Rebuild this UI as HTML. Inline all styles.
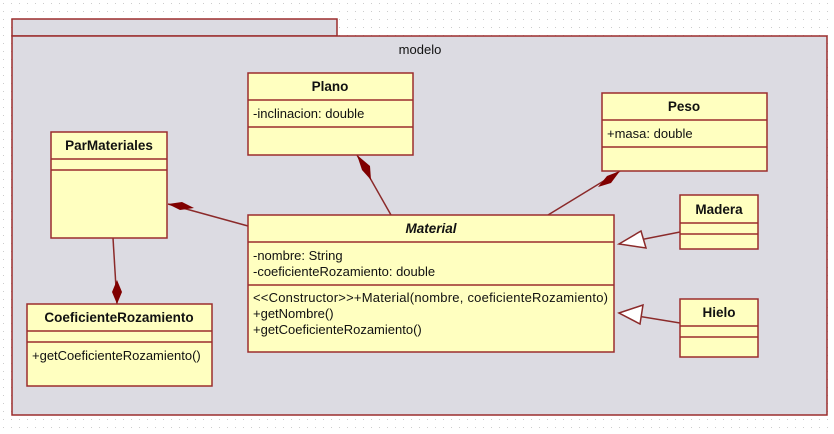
<!DOCTYPE html>
<html><head><style>
body{margin:0;background:#fff}
svg text{font-family:"Liberation Sans",sans-serif;font-size:13px;fill:#111}
.b{font-weight:bold;font-size:13.5px}
</style></head><body>
<svg width="834" height="429" xmlns="http://www.w3.org/2000/svg">
<defs><pattern id="d" width="8" height="8" patternUnits="userSpaceOnUse"><rect x="3" y="3" width="1" height="1" fill="#ccc"/></pattern></defs>
<rect width="834" height="429" fill="url(#d)"/>
<g stroke="#9b2d2d" stroke-width="1.5">
<rect x="12" y="19" width="325" height="17" fill="#dcdbe2"/>
<rect x="12" y="36" width="815" height="379" fill="#dcdbe2"/>
</g>
<text x="420" y="54" text-anchor="middle">modelo</text>
<g stroke="#8b2a2a" stroke-width="1.5">
<line x1="357" y1="155" x2="391" y2="215"/>
<line x1="620" y1="171" x2="548" y2="215"/>
<line x1="168" y1="204" x2="248" y2="226"/>
<line x1="113" y1="238" x2="117" y2="304"/>
<line x1="680" y1="232" x2="619" y2="244"/>
<line x1="680" y1="323" x2="619" y2="313"/>
</g>
<g fill="#800000">
<polygon points="357,155 370,166 371,180 362,170"/>
<polygon points="620,171 611,183 598,187 607,176"/>
<polygon points="168,204 182,202 194,208 180,210"/>
<polygon points="117,304 122,292 117,280 112,292"/>
</g>
<g fill="#fff" stroke="#8b2a2a" stroke-width="1.5">
<polygon points="619,244 641,231 646,248"/>
<polygon points="619,313 643,305 640,324"/>
</g>
<g fill="#ffffc0" stroke="#9b2d2d" stroke-width="1.5">
<rect x="248" y="73" width="165" height="82"/><line x1="248" y1="100" x2="413" y2="100"/><line x1="248" y1="127" x2="413" y2="127"/>
<rect x="51" y="132" width="116" height="106"/><line x1="51" y1="159" x2="167" y2="159"/><line x1="51" y1="170" x2="167" y2="170"/>
<rect x="602" y="93" width="165" height="78"/><line x1="602" y1="120" x2="767" y2="120"/><line x1="602" y1="147" x2="767" y2="147"/>
<rect x="248" y="215" width="366" height="137"/><line x1="248" y1="242" x2="614" y2="242"/><line x1="248" y1="285" x2="614" y2="285"/>
<rect x="680" y="195" width="78" height="54"/><line x1="680" y1="223" x2="758" y2="223"/><line x1="680" y1="234" x2="758" y2="234"/>
<rect x="680" y="299" width="78" height="58"/><line x1="680" y1="326" x2="758" y2="326"/><line x1="680" y1="337" x2="758" y2="337"/>
<rect x="27" y="304" width="185" height="82"/><line x1="27" y1="331" x2="212" y2="331"/><line x1="27" y1="342" x2="212" y2="342"/>
</g>
<text class="b" x="330" y="91" text-anchor="middle">Plano</text>
<text x="253" y="118">-inclinacion: double</text>
<text class="b" x="109" y="150" text-anchor="middle">ParMateriales</text>
<text class="b" x="684" y="111" text-anchor="middle">Peso</text>
<text x="607" y="138">+masa: double</text>
<text class="b" x="431" y="233" text-anchor="middle" font-style="italic">Material</text>
<text x="253" y="260">-nombre: String</text>
<text x="253" y="276">-coeficienteRozamiento: double</text>
<text x="253" y="302" textLength="355" lengthAdjust="spacing">&lt;&lt;Constructor&gt;&gt;+Material(nombre, coeficienteRozamiento)</text>
<text x="253" y="318">+getNombre()</text>
<text x="253" y="334">+getCoeficienteRozamiento()</text>
<text class="b" x="719" y="214" text-anchor="middle">Madera</text>
<text class="b" x="719" y="317" text-anchor="middle">Hielo</text>
<text class="b" x="119" y="322" text-anchor="middle">CoeficienteRozamiento</text>
<text x="32" y="360">+getCoeficienteRozamiento()</text>
</svg>
</body></html>
